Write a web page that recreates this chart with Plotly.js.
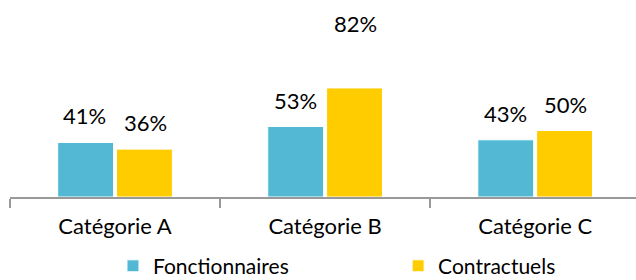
<!DOCTYPE html>
<html><head><meta charset="utf-8">
<script src="https://cdn.plot.ly/plotly-3.0.1.min.js"></script>
<style>html,body{margin:0;padding:0;background:#fff}#chart{width:636px;height:280px}</style>
</head><body><div id="chart"></div>
<script>
const categories = ["Catégorie A", "Catégorie B", "Catégorie C"];
const fonctionnaires = [41, 53, 43];
const contractuels = [36, 82, 50];
const seriesNames = ["Fonctionnaires", "Contractuels"];

const colors = ["#52B8D4", "#FFCC00"];
const font = "Lato, 'Open Sans', sans-serif";
const fs = 22;
const seriesValues = [fonctionnaires, contractuels];
const legendIds = ["legend", "legend2"];

const traces = seriesValues.map((vals, i) => ({
  type: "bar", x: categories, y: vals, name: seriesNames[i],
  legend: legendIds[i],
  marker: {color: colors[i], line: {color: "#fff", width: 1}},
  hoverinfo: "none"
}));

// labels above bars, via annotations positioned on data coordinates
const offsets = [-0.143, 0.143];
const annotations = [];
seriesValues.forEach((vals, s) => {
  vals.forEach((v, c) => {
    const extra = (s === 1 && c === 1) ? 38 : 0; // B contractuels label moved up in original
    annotations.push({
      x: c + offsets[s], y: v, xref: "x", yref: "y",
      text: v + "%", showarrow: false, yanchor: "bottom", yshift: 11 + extra,
      font: {family: font, size: fs, color: "#000"}
    });
  });
});

const legendBase = {orientation: "h", yanchor: "middle", y: -0.52,
  font: {family: font, size: 21, color: "#000"}, itemwidth: 30, bgcolor: "rgba(0,0,0,0)"};

const layout = {
  width: 636, height: 280,
  margin: {l: 10, r: 0, t: 64, b: 83, autoexpand: false},
  paper_bgcolor: "#fff", plot_bgcolor: "#fff",
  barmode: "group", bargap: 0.44, bargroupgap: 0.05,
  showlegend: true,
  legend: Object.assign({}, legendBase, {x: 0.1645, xanchor: "left"}),
  legend2: Object.assign({}, legendBase, {x: 0.62, xanchor: "left"}),
  xaxis: {type: "category", range: [-0.5, 2.48], showline: true, linecolor: "#999", linewidth: 1.5,
    ticks: "outside", ticklen: 9, tickcolor: "#999", tickwidth: 1.5, tickson: "boundaries",
    ticklabelstandoff: 9,
    tickfont: {family: font, size: fs, color: "#000"}, showgrid: false, zeroline: false, fixedrange: true},
  yaxis: {range: [0, 100], visible: false, showgrid: false, zeroline: false, fixedrange: true},
  annotations: annotations
};

Plotly.newPlot("chart", traces, layout, {staticPlot: true, displayModeBar: false});
</script></body></html>
